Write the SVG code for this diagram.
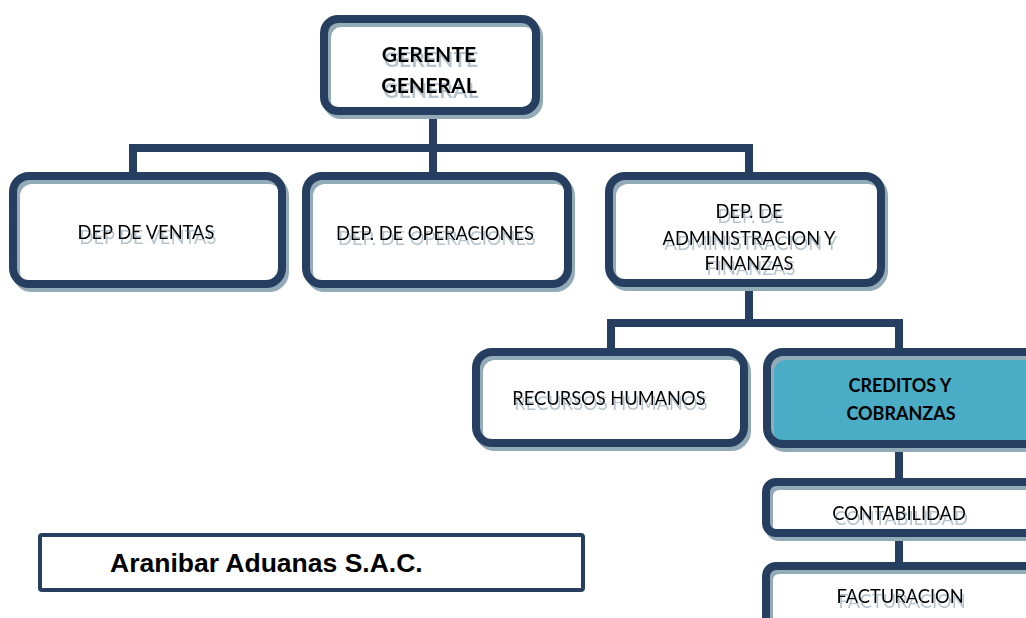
<svg xmlns="http://www.w3.org/2000/svg" width="1026" height="618" viewBox="0 0 1026 618">
<defs>
<filter id="tshadow" x="-10%" y="-30%" width="120%" height="180%">
<feOffset in="SourceAlpha" dx="2" dy="5" result="off"/>
<feFlood flood-color="#a7b8c4" flood-opacity="0.85"/>
<feComposite in2="off" operator="in" result="sh"/>
<feMerge><feMergeNode in="sh"/><feMergeNode in="SourceGraphic"/></feMerge>
</filter>
</defs>
<style>
.fill{fill:#ffffff;stroke:none}
.sh{fill:none;stroke:#93aab7;stroke-width:8}
.bd{fill:none;stroke:#263f60;stroke-width:8}
.conn{fill:none;stroke:#263f60;stroke-width:8;stroke-linejoin:miter}
.t{font-family:Lato,"Noto Sans",sans-serif;font-size:18.3px;text-anchor:middle;fill:#000}
.ts{filter:url(#tshadow)}
.b{font-weight:bold}
.big{font-size:21.2px}
.mid{font-size:18px}
</style>
<rect width="1026" height="618" fill="#ffffff"/>
<g id="connectors">
<path class="conn" d="M433 111V148M133 180V148H749V180M433 148V180"/>
<path class="conn" d="M749 280V323M611 356V323H899V356"/>
<path class="conn" d="M899 440V486M899 529V570"/>
</g>
<g id="gerente">
<rect class="fill" x="324" y="19" width="212" height="92" rx="14"/>
<rect class="sh" x="327" y="23" width="212" height="92" rx="14"/>
<rect class="bd" x="324" y="19" width="212" height="92" rx="14"/>
<text class="t b big ts" x="429"><tspan x="429" y="62">GERENTE</tspan><tspan x="429" y="93">GENERAL</tspan></text>
</g>
<g id="ventas">
<rect class="fill" x="13" y="176" width="269" height="108" rx="16"/>
<rect class="sh" x="16" y="180" width="269" height="108" rx="16"/>
<rect class="bd" x="13" y="176" width="269" height="108" rx="16"/>
<text class="t ts" x="146" y="239">DEP DE VENTAS</text>
</g>
<g id="operaciones">
<rect class="fill" x="306" y="176" width="262" height="108" rx="16"/>
<rect class="sh" x="309" y="180" width="262" height="108" rx="16"/>
<rect class="bd" x="306" y="176" width="262" height="108" rx="16"/>
<text class="t ts" x="435" y="240">DEP. DE OPERACIONES</text>
</g>
<g id="administracion">
<rect class="fill" x="609" y="176" width="272" height="107" rx="16"/>
<rect class="sh" x="612" y="180" width="272" height="107" rx="16"/>
<rect class="bd" x="609" y="176" width="272" height="107" rx="16"/>
<text class="t ts" x="749"><tspan x="749" y="218">DEP. DE</tspan><tspan x="749" y="245">ADMINISTRACION Y</tspan><tspan x="749" y="270">FINANZAS</tspan></text>
</g>
<g id="recursos">
<rect class="fill" x="476" y="352" width="268" height="91" rx="16"/>
<rect class="sh" x="479" y="356" width="268" height="91" rx="16"/>
<rect class="bd" x="476" y="352" width="268" height="91" rx="16"/>
<text class="t ts" x="609" y="405">RECURSOS HUMANOS</text>
</g>
<g id="creditos">
<rect x="767" y="352" width="280" height="92" rx="16" fill="#4bacc6"/>
<rect class="sh" x="770" y="356" width="280" height="92" rx="16"/>
<rect class="bd" x="767" y="352" width="280" height="92" rx="16"/>
<text class="t b mid" x="900"><tspan x="900" y="392">CREDITOS Y</tspan><tspan x="901" y="420">COBRANZAS</tspan></text>
</g>
<g id="contabilidad">
<rect class="fill" x="766" y="482" width="280" height="51" rx="10"/>
<rect class="sh" x="769" y="486" width="280" height="51" rx="10"/>
<rect class="bd" x="766" y="482" width="280" height="51" rx="10"/>
<text class="t ts" x="899" y="520">CONTABILIDAD</text>
</g>
<g id="facturacion">
<rect class="fill" x="766" y="566" width="280" height="80" rx="10"/>
<rect class="sh" x="769" y="570" width="280" height="80" rx="10"/>
<rect class="bd" x="766" y="566" width="280" height="80" rx="10"/>
<text class="t ts" x="900" y="603">FACTURACION</text>
</g>
<g id="empresa">
<rect x="40" y="535" width="543" height="55" rx="2" fill="#ffffff" stroke="#263f60" stroke-width="4"/>
<text x="110" y="572" font-family="'Liberation Sans',Arial,sans-serif" font-weight="bold" font-size="26.5" fill="#000">Aranibar Aduanas S.A.C.</text>
</g>
</svg>
